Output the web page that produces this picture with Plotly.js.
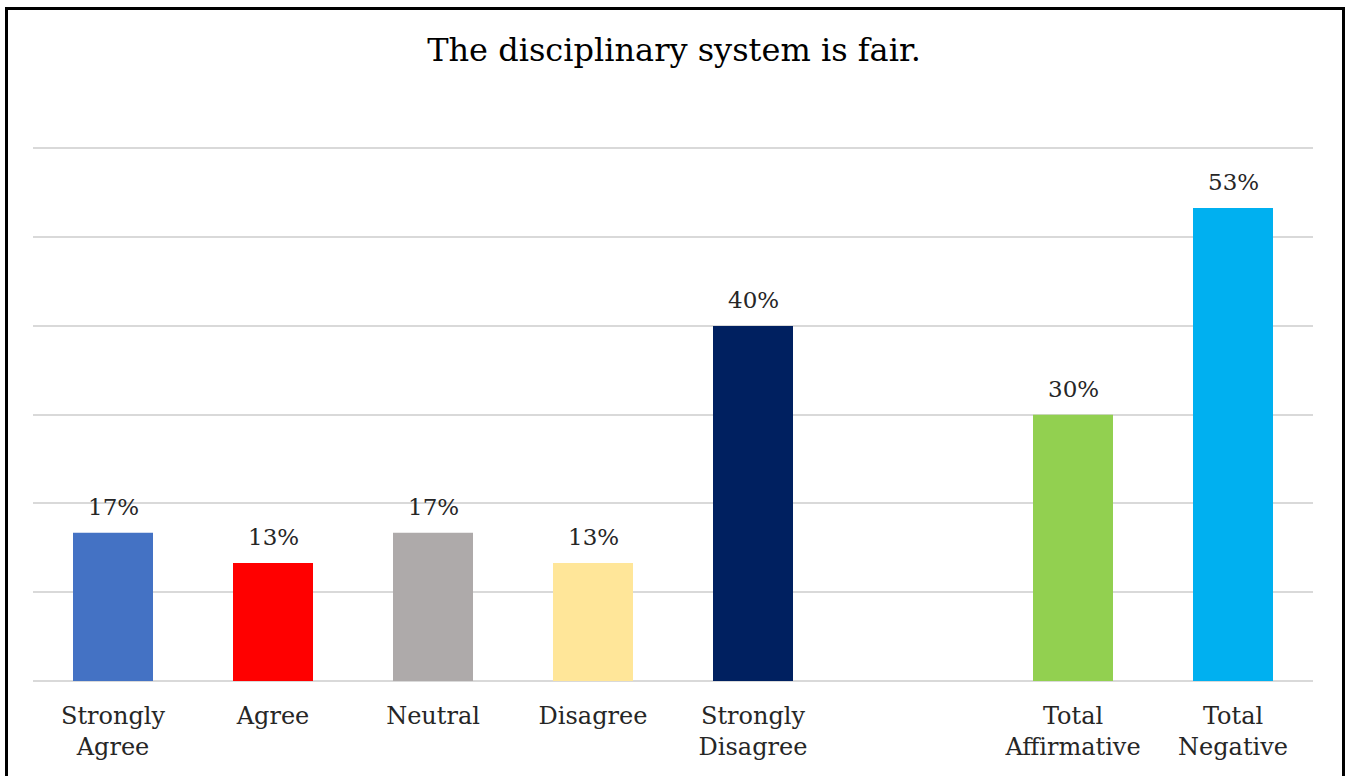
<!DOCTYPE html>
<html>
<head>
<meta charset="utf-8">
<script src="https://cdn.plot.ly/plotly-3.0.1.min.js"></script>
<style>
  html, body { margin: 0; padding: 0; background: #ffffff; width: 1348px; height: 776px; overflow: hidden; }
  #frame { position: absolute; left: 5px; top: 7px; width: 1334px; height: 800px; border: 3px solid #000000; box-sizing: content-box; }
  #chart { position: absolute; left: 0; top: 0; width: 1348px; height: 776px; }
</style>
</head>
<body>
<div id="frame"></div>
<div id="chart"></div>
<script>
// Data
const categories = ["Strongly<br>Agree", "Agree", "Neutral", "Disagree", "Strongly<br>Disagree", "", "Total<br>Affirmative", "Total<br>Negative"];
const values = [16.7, 13.3, 16.7, 13.3, 40.0, null, 30.0, 53.3];
const barColors = ["#4472C4", "#FF0000", "#AEAAAA", "#FFE699", "#002060", "#FFFFFF", "#92D050", "#00B0F0"];
const gridValues = [0, 10, 20, 30, 40, 50, 60];
const chartTitle = "The disciplinary system is fair.";

const positions = categories.map((c, i) => i);
const labels = values.map(v => v === null ? "" : Math.round(v) + "%");

const serif = "DejaVu Serif, Liberation Serif, serif";

const trace = {
  type: "bar",
  x: positions,
  y: values,
  width: 0.5,
  marker: { color: barColors, line: { width: 0 } },
  cliponaxis: false,
  hoverinfo: "skip"
};

const annotations = positions
  .filter(i => values[i] !== null)
  .map(i => ({
    x: positions[i],
    y: values[i],
    xref: "x",
    yref: "y",
    text: labels[i],
    showarrow: false,
    xanchor: "center",
    yanchor: "bottom",
    yshift: 11,
    font: { family: serif, size: 23, color: "#262626" }
  }));

const layout = {
  width: 1348,
  height: 776,
  paper_bgcolor: "rgba(0,0,0,0)",
  plot_bgcolor: "rgba(0,0,0,0)",
  margin: { l: 33, r: 35, t: 144, b: 95, pad: 0 },
  showlegend: false,
  annotations: annotations,
  title: {
    text: chartTitle,
    font: { family: serif, size: 32, color: "#000000" },
    x: 0.5, xanchor: "center",
    y: 1 - 50 / 776, yanchor: "middle", yref: "container"
  },
  xaxis: {
    range: [-0.5, categories.length - 0.5],
    tickmode: "array",
    tickvals: positions,
    ticktext: categories,
    showgrid: false,
    zeroline: false,
    showline: false,
    ticks: "",
    ticklabelstandoff: 18,
    tickfont: { family: serif, size: 24, color: "#262626" },
    fixedrange: true
  },
  yaxis: {
    range: [0, 60.5],
    tickmode: "array",
    tickvals: gridValues,
    showticklabels: false,
    showgrid: true,
    gridcolor: "#D9D9D9",
    gridwidth: 2,
    zeroline: true,
    zerolinecolor: "#D9D9D9",
    zerolinewidth: 2,
    showline: false,
    ticks: "",
    fixedrange: true
  }
};

Plotly.newPlot("chart", [trace], layout, { displayModeBar: false, staticPlot: true });
</script>
</body>
</html>
